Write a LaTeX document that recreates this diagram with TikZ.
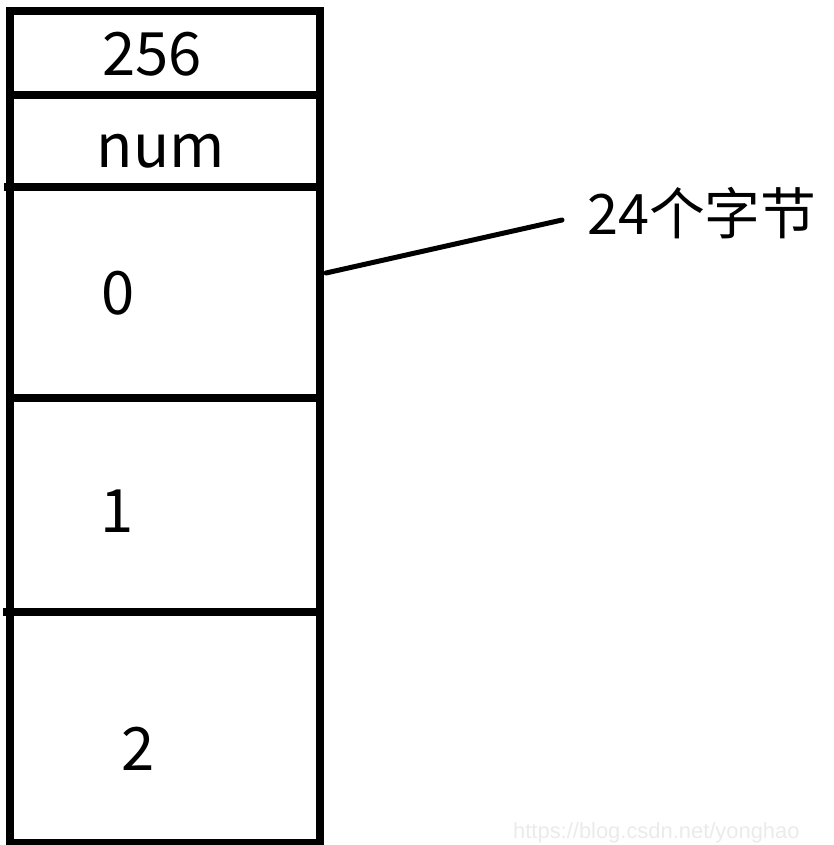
\documentclass[tikz,border=0pt]{standalone}
\usepackage{fontspec}
\setmainfont{Noto Sans CJK SC}
\newfontfamily\markfont{Liberation Sans}
\begin{document}
\begin{tikzpicture}[x=1bp,y=-1bp,
  frame/.style={line width=8bp,line cap=butt},
  cell/.style={font=\fontsize{60}{60}\selectfont,inner sep=0pt,anchor=center},
  pointer/.style={line width=5bp,line cap=round}]
  \useasboundingbox[fill=white] (0,0) rectangle (834,845);
  \clip (0,0) rectangle (834,845);

  % outer frame of the memory block
  \draw[frame] (10,11) rectangle (320,843);
  % dividers between the fields
  \draw[frame] (10,95) -- (320,95);
  \draw[frame] (4,187) -- (320,187);
  \draw[frame] (10,398) -- (320,398);
  \draw[frame] (3,612) -- (320,612);

  % field contents
  \node[cell] (n256) at (152,54) {256};
  \node[cell] (nnum) at (161,151) {num};
  \node[cell] (n0) at (118,293) {0};
  \node[cell] (n1) at (117,511) {1};
  \node[cell] (n2) at (138,749) {2};

  % size annotation for element 0
  \node[cell,anchor=west,font=\fontsize{56}{56}\selectfont] (size) at (587,213) {24个字节};
  \coordinate (tip) at (326,273);
  \draw[pointer] (tip) -- ([xshift=-25bp,yshift=-7bp]size.west);

  % watermark
  \node[anchor=base west,inner sep=0pt,text=black!8,
        font=\markfont\fontsize{22}{22}\selectfont] (wm) at (513,838)
        {https://blog.csdn.net/yonghao};
\end{tikzpicture}
\end{document}
